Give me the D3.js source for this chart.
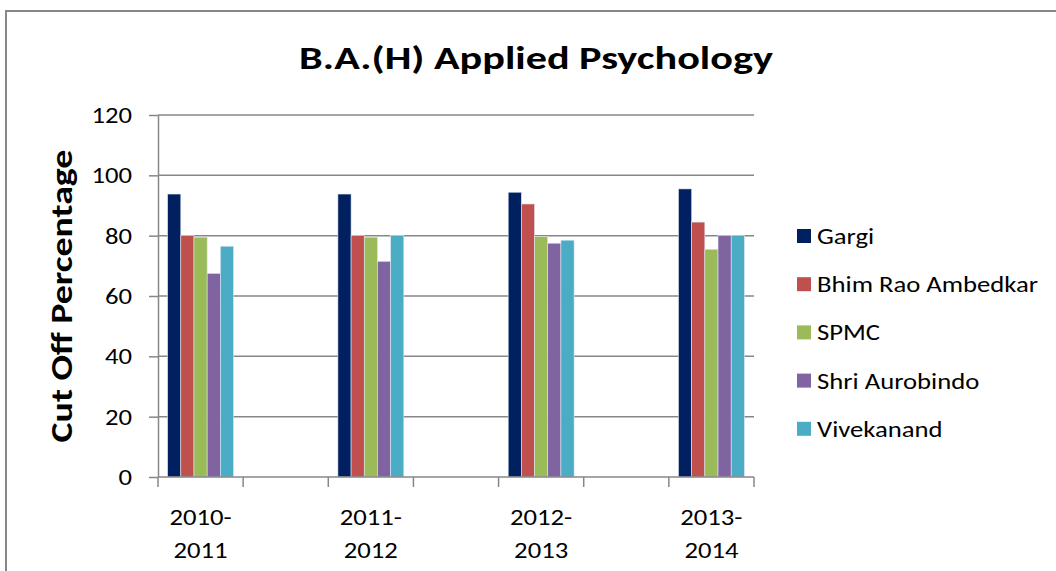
<!DOCTYPE html>
<html>
<head>
<meta charset="utf-8">
<script src="https://cdn.jsdelivr.net/npm/d3@7"></script>
<style>
  html, body { margin: 0; padding: 0; background: #fff; }
  svg { display: block; font-family: Carlito, Calibri, Lato, sans-serif; }
</style>
</head>
<body>
<svg id="chart" width="1056" height="571"></svg>
<script>
// categories (blank slots between the years, as in the source sheet)
const categories = ['2010-2011', '', '2011-2012', '', '2012-2013', '', '2013-2014']
const seriesNames = ['Gargi', 'Bhim Rao Ambedkar', 'SPMC', 'Shri Aurobindo', 'Vivekanand']
const seriesColors = ['#002060', '#c0504d', '#9bbb59', '#8064a2', '#4bacc6']

const gargi = [93.8, null, 93.8, null, 94.4, null, 95.5]
const bhimRao = [80, null, 80, null, 90.5, null, 84.5]
const spmc = [79.5, null, 79.5, null, 79.7, null, 75.5]
const shriAurobindo = [67.5, null, 71.5, null, 77.5, null, 80]
const vivekanand = [76.5, null, 80, null, 78.5, null, 80]

const yTicks = [0, 20, 40, 60, 80, 100, 120]

const title = 'B.A.(H) Applied Psychology'
const yTitle = 'Cut Off Percentage'

const seriesValues = [gargi, bhimRao, spmc, shriAurobindo, vivekanand]

const width = 1056
const height = 571
const margin = { top: 115, left: 158, bottom: 94, right: 302 }
const grey = '#878787'
const STRETCH = 1.16 // the source picture is widened along the text baseline
const FONT = 23

const svg = d3.select('#chart')

// text widened along its baseline, anchored at (x, y)
function label(parent, x, y, str, size, opt) {
  const { anchor, bold, rotate, stretch } = opt || {}
  return parent.append('text')
    .attr('transform', `translate(${x},${y}) rotate(${rotate || 0}) scale(${stretch || STRETCH},1)`)
    .attr('text-anchor', anchor || 'start')
    .attr('font-size', size)
    .attr('font-weight', bold ? 'bold' : 'normal')
    .attr('fill', '#000')
    .text(str)
}

// outer chart frame (right and bottom edges run off the picture)
svg.append('path')
  .attr('d', `M6,${height + 5}V11H${width + 5}`)
  .attr('fill', 'none')
  .attr('stroke', grey)
  .attr('stroke-width', 2)

const x0 = d3.scaleBand()
  .domain(d3.range(categories.length))
  .range([margin.left, width - margin.right])
  .paddingInner(0)
  .paddingOuter(0)

const x1 = d3.scaleBand()
  .domain(d3.range(seriesNames.length))
  .range([x0.bandwidth() * 0.113, x0.bandwidth() * 0.887])

const y = d3.scaleLinear()
  .domain([0, 120])
  .range([height - margin.bottom, margin.top])

// gridlines
svg.append('g')
  .selectAll('line')
  .data(yTicks.filter(d => d > 0))
  .join('line')
  .attr('x1', margin.left)
  .attr('x2', width - margin.right)
  .attr('y1', d => y(d))
  .attr('y2', d => y(d))
  .attr('stroke', grey)
  .attr('stroke-width', 1.5)

// y axis line + ticks
const yAxis = svg.append('g')
  .attr('transform', `translate(${margin.left},0)`)
  .call(d3.axisLeft(y).tickValues(yTicks).tickSize(9).tickSizeOuter(0).tickFormat(''))
yAxis.select('.domain').attr('stroke', grey).attr('stroke-width', 1.5)
yAxis.selectAll('.tick line').attr('stroke', grey).attr('stroke-width', 1.5)

const yLabels = svg.append('g')
yTicks.forEach(t => label(yLabels, 132, y(t) + 8, t, FONT, { anchor: 'end' }))

// bars
const groups = svg.append('g')
  .selectAll('g')
  .data(categories.map((c, i) => i))
  .join('g')
  .attr('transform', i => `translate(${x0(i)},0)`)

groups.selectAll('rect')
  .data(i => seriesValues.map((vals, s) => ({ s, v: vals[i] })).filter(d => d.v != null))
  .join('rect')
  .attr('x', d => x1(d.s))
  .attr('width', x1.bandwidth())
  .attr('y', d => y(d.v))
  .attr('height', d => y(0) - y(d.v))
  .attr('fill', d => seriesColors[d.s])
  .attr('stroke', '#dfe6f0')
  .attr('stroke-width', 0.6)

// x axis (ticks at category boundaries)
const xBase = y(0)
const boundaries = d3.range(categories.length + 1).map(i => margin.left + i * x0.step())
svg.append('line')
  .attr('x1', margin.left)
  .attr('x2', width - margin.right)
  .attr('y1', xBase)
  .attr('y2', xBase)
  .attr('stroke', grey)
  .attr('stroke-width', 1.5)
svg.append('g')
  .selectAll('line')
  .data(boundaries)
  .join('line')
  .attr('x1', d => d)
  .attr('x2', d => d)
  .attr('y1', xBase)
  .attr('y2', xBase + 10)
  .attr('stroke', grey)
  .attr('stroke-width', 1.5)

const xLabels = svg.append('g')
categories.forEach((c, i) => {
  if (!c) return
  const parts = c.split('-')
  const cx = x0(i) + x0.bandwidth() / 2
  label(xLabels, cx, xBase + 48, parts[0] + '-', FONT, { anchor: 'middle' })
  label(xLabels, cx, xBase + 81, parts[1], FONT, { anchor: 'middle' })
})

// titles
label(svg, 536, 69, title, 33, { anchor: 'middle', bold: true, stretch: 1.28 })
label(svg, 72, (y(0) + y(120)) / 2, yTitle, 30, { anchor: 'middle', bold: true, rotate: -90, stretch: 1.26 })

// legend
const legend = svg.append('g')
  .selectAll('g')
  .data(seriesNames)
  .join('g')
  .attr('transform', (d, i) => `translate(797,${236 + i * 48.2})`)
legend.append('rect')
  .attr('x', 0)
  .attr('y', -7)
  .attr('width', 14)
  .attr('height', 14)
  .attr('fill', (d, i) => seriesColors[i])
legend.each(function (d) {
  label(d3.select(this), 20, 8, d, FONT)
})
</script>
</body>
</html>
